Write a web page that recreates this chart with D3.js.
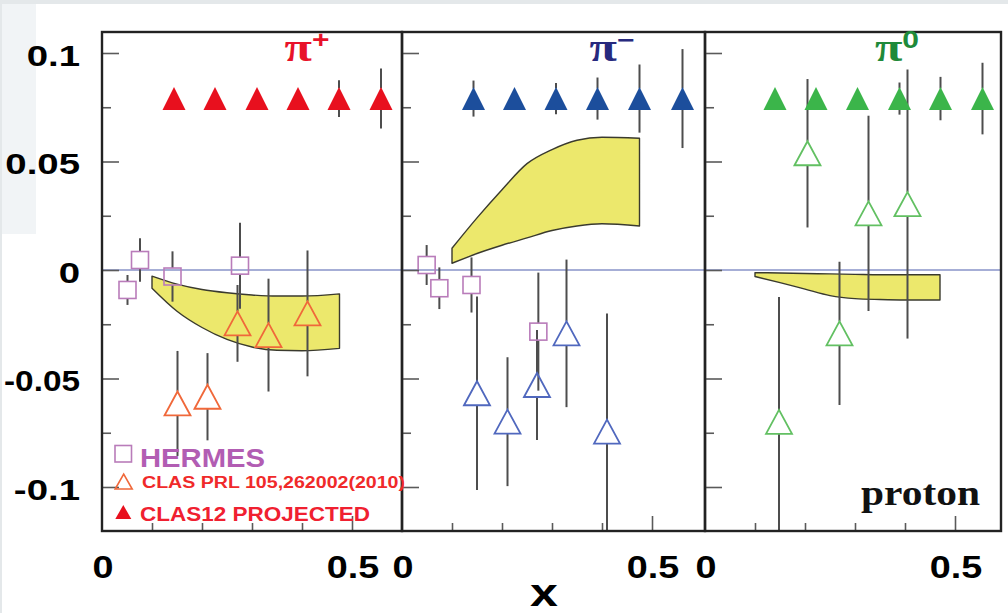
<!DOCTYPE html>
<html>
<head>
<meta charset="utf-8">
<script src="https://cdn.jsdelivr.net/npm/d3@7"></script>
<style>
  html, body { margin: 0; padding: 0; background: #fff; overflow: hidden; }
  svg { display: block; }
</style>
</head>
<body>
<svg id="chart" width="1008" height="613"></svg>
<script>
// ---------------- data ----------------
const panelSups = ["+", "\u2212", "0"];
const yMajorTicks = [-0.1, -0.05, 0, 0.05, 0.1];
const yMinorTicks = [-0.075, -0.025, 0.025, 0.075];
const yTickLabels = ["-0.1", "-0.05", "0", "0.05", "0.1"];
const xMinorTicks = [0.1, 0.2, 0.3, 0.4];
const xMajorTicks = [0.5];
const xLabelValues = [0, 0.5];
const xTickLabels = ["0", "0.5"];

// CLAS12 projected (filled triangles)
const projectedY = 0.079;
const projX_piPlus  = [0.144, 0.226, 0.310, 0.392, 0.474, 0.558];
const projErr_piPlus  = [0.003, 0.003, 0.003, 0.004, 0.0085, 0.0138];
const projX_piMinus = [0.143, 0.225, 0.308, 0.391, 0.475, 0.561];
const projErr_piMinus = [0.0083, 0.004, 0.0072, 0.0097, 0.0157, 0.0228];
const projX_piZero  = [0.140, 0.222, 0.305, 0.389, 0.471, 0.555];
const projErr_piZero  = [0.003, 0.003, 0.003, 0.0074, 0.010, 0.0165];

// CLAS PRL 105,262002(2010) (open triangles)
const clasX_piPlus  = [0.151, 0.211, 0.271, 0.333, 0.411];
const clasY_piPlus  = [-0.0615, -0.0584, -0.0246, -0.0300, -0.0200];
const clasErr_piPlus = [0.0242, 0.0201, 0.0177, 0.0260, 0.0290];
const clasX_piMinus = [0.150, 0.211, 0.270, 0.329, 0.410];
const clasY_piMinus = [-0.0568, -0.0699, -0.0530, -0.0292, -0.0745];
const clasErr_piMinus = [0.0446, 0.0297, 0.0253, 0.0340, 0.0545];
const clasX_piZero  = [0.148, 0.205, 0.269, 0.327, 0.405];
const clasY_piZero  = [-0.0700, 0.0538, -0.0292, 0.0261, 0.0304];
const clasErr_piZero = [0.0576, 0.0342, 0.0330, 0.0450, 0.0620];

// HERMES (open squares)
const hermesX_piPlus  = [0.051, 0.076, 0.141, 0.276];
const hermesY_piPlus  = [-0.0092, 0.0046, -0.0030, 0.0020];
const hermesErr_piPlus = [0.0069, 0.0100, 0.0116, 0.0198];
const hermesX_piMinus = [0.0493, 0.0747, 0.139, 0.2727];
const hermesY_piMinus = [0.0023, -0.0084, -0.0069, -0.0284];
const hermesErr_piMinus = [0.0092, 0.0096, 0.0127, 0.0272];

// model bands (x, lower, upper)
const bandX = [0.10, 0.15, 0.20, 0.25, 0.30, 0.35, 0.40, 0.475];
const bandLo_piPlus  = [-0.0084, -0.0190, -0.0265, -0.0320, -0.0355, -0.0370, -0.0372, -0.0361];
const bandHi_piPlus  = [-0.0028, -0.0065, -0.0090, -0.0105, -0.0115, -0.0120, -0.0120, -0.0110];
const bandLo_piMinus = [0.0031, 0.0076, 0.0114, 0.0148, 0.0182, 0.0203, 0.0213, 0.0203];
const bandHi_piMinus = [0.0100, 0.0240, 0.0370, 0.0490, 0.0555, 0.0598, 0.0612, 0.0607];
const bandX_piZero   = [0.10, 0.15, 0.20, 0.25, 0.30, 0.35, 0.40, 0.47];
const bandLo_piZero  = [-0.0030, -0.0058, -0.0088, -0.0118, -0.0132, -0.0136, -0.0138, -0.0138];
const bandHi_piZero  = [-0.0012, -0.0014, -0.0016, -0.0018, -0.0020, -0.0022, -0.0022, -0.0022];

// ---------------- layout / style ----------------
const panelLeft  = [102, 402, 705];
const panelRight = [402, 705, 1001];
const plotTop = 32, plotBottom = 531;

const panels = [
  { sup: panelSups[0], titleColor: "#e8122a", titleX: 307,
    projX: projX_piPlus, projErr: projErr_piPlus, projColor: "#e8101e",
    clasX: clasX_piPlus, clasY: clasY_piPlus, clasErr: clasErr_piPlus, clasColor: "#f0683a",
    hermesX: hermesX_piPlus, hermesY: hermesY_piPlus, hermesErr: hermesErr_piPlus,
    bandX: bandX, bandLo: bandLo_piPlus, bandHi: bandHi_piPlus },
  { sup: panelSups[1], titleColor: "#27297e", titleX: 612,
    projX: projX_piMinus, projErr: projErr_piMinus, projColor: "#1c4e9c",
    clasX: clasX_piMinus, clasY: clasY_piMinus, clasErr: clasErr_piMinus, clasColor: "#5068be",
    hermesX: hermesX_piMinus, hermesY: hermesY_piMinus, hermesErr: hermesErr_piMinus,
    bandX: bandX, bandLo: bandLo_piMinus, bandHi: bandHi_piMinus },
  { sup: panelSups[2], titleColor: "#1e8a3a", titleX: 897,
    projX: projX_piZero, projErr: projErr_piZero, projColor: "#3bb54a",
    clasX: clasX_piZero, clasY: clasY_piZero, clasErr: clasErr_piZero, clasColor: "#62c062",
    hermesX: [], hermesY: [], hermesErr: [],
    bandX: bandX_piZero, bandLo: bandLo_piZero, bandHi: bandHi_piZero }
];

const svg = d3.select("#chart");

// page background
svg.append("rect").attr("width", 1008).attr("height", 613).attr("fill", "#ffffff");
svg.append("rect").attr("x", 0).attr("y", 0).attr("width", 36).attr("height", 234).attr("fill", "#f1f4f6");
svg.append("rect").attr("x", 0).attr("y", 0).attr("width", 2).attr("height", 613).attr("fill", "#e4e8ea");
svg.append("rect").attr("x", 0).attr("y", 0).attr("width", 1008).attr("height", 4).attr("fill", "#e4e8ea");

const y = d3.scaleLinear().domain([-0.1, 0.1]).range([487, 53]);

const defs = svg.append("defs");

const sansBold = "'Liberation Sans', Arial, Helvetica, sans-serif";
const serifBold = "'Liberation Serif', 'Times New Roman', serif";

function stretchedText(g, x, yy, str, size, sx, anchor, color, family) {
  return g.append("text")
    .attr("transform", `translate(${x},${yy}) scale(${sx},1)`)
    .attr("text-anchor", anchor)
    .attr("font-family", family || sansBold)
    .attr("font-weight", "bold")
    .attr("font-size", size)
    .attr("fill", color || "#000")
    .text(str);
}

function triPath(cx, cy, w, h) {
  return `M${cx - w / 2},${cy + h / 2} L${cx},${cy - h / 2} L${cx + w / 2},${cy + h / 2} Z`;
}

// y tick labels (the long "-0.05" is squeezed to stay inside the page)
const yLabG = svg.append("g");
yMajorTicks.forEach((v, i) => {
  const lab = yTickLabels[i];
  if (lab.length > 4) {
    yLabG.append("text")
      .attr("x", 4).attr("y", y(v) + 12.5)
      .attr("font-family", sansBold).attr("font-weight", "bold").attr("font-size", 30)
      .attr("textLength", 76).attr("lengthAdjust", "spacingAndGlyphs")
      .text(lab);
  } else {
    stretchedText(yLabG, 80, y(v) + 12.5, lab, 30, 1.28, "end");
  }
});

panels.forEach((p, i) => {
  const L = panelLeft[i], R = panelRight[i];
  const x = d3.scaleLinear().domain([0, 0.5]).range([L, L + 250]);

  defs.append("clipPath").attr("id", "clip" + i)
    .append("rect").attr("x", L).attr("y", plotTop).attr("width", R - L).attr("height", plotBottom - plotTop);

  const g = svg.append("g");
  const body = g.append("g").attr("clip-path", `url(#clip${i})`);

  // model band
  const bandData = p.bandX.map((bx, k) => ({ x: bx, lo: p.bandLo[k], hi: p.bandHi[k] }));
  const area = d3.area()
    .x(d => x(d.x)).y0(d => y(d.lo)).y1(d => y(d.hi))
    .curve(d3.curveMonotoneX);
  body.append("path").datum(bandData)
    .attr("d", area)
    .attr("fill", "#ece86c")
    .attr("stroke", "#3a3a2e")
    .attr("stroke-width", 1.4)
    .attr("stroke-linejoin", "round");

  // zero line
  body.append("line")
    .attr("x1", L).attr("x2", R).attr("y1", y(0)).attr("y2", y(0))
    .attr("stroke", "#4f5fae").attr("stroke-width", 1.2);

  // error bars with a gap where the marker sits
  function errBars(xs, ys, es, halfGap) {
    xs.forEach((xv, k) => {
      const cx = x(xv), cy = y(ys[k]);
      const top = y(ys[k] + es[k]), bot = y(ys[k] - es[k]);
      if (cy - top > halfGap) {
        body.append("line").attr("x1", cx).attr("x2", cx).attr("y1", top).attr("y2", cy - halfGap)
          .attr("stroke", "#4d4d4d").attr("stroke-width", 2);
      }
      if (bot - cy > halfGap) {
        body.append("line").attr("x1", cx).attr("x2", cx).attr("y1", cy + halfGap).attr("y2", bot)
          .attr("stroke", "#4d4d4d").attr("stroke-width", 2);
      }
    });
  }

  const projY = p.projX.map(() => projectedY);
  errBars(p.projX, projY, p.projErr, 10);
  errBars(p.hermesX, p.hermesY, p.hermesErr, 8.5);
  errBars(p.clasX, p.clasY, p.clasErr, 12);

  // HERMES open squares
  body.selectAll("rect.hermes").data(p.hermesX.map((hx, k) => [hx, p.hermesY[k]]))
    .join("rect").attr("class", "hermes")
    .attr("x", d => x(d[0]) - 8.5).attr("y", d => y(d[1]) - 8.5)
    .attr("width", 17).attr("height", 17)
    .attr("fill", "none").attr("stroke", "#b97cba").attr("stroke-width", 1.6);

  // CLAS open triangles
  body.selectAll("path.clas").data(p.clasX.map((cx, k) => [cx, p.clasY[k]]))
    .join("path").attr("class", "clas")
    .attr("d", d => triPath(x(d[0]), y(d[1]), 26, 24))
    .attr("fill", "none").attr("stroke", p.clasColor).attr("stroke-width", 1.8)
    .attr("stroke-linejoin", "miter");

  // CLAS12 projected filled triangles
  body.selectAll("path.proj").data(p.projX)
    .join("path").attr("class", "proj")
    .attr("d", d => triPath(x(d), y(projectedY), 23, 23))
    .attr("fill", p.projColor);

  // ticks (inside the frame)
  const tickStyle = sel => {
    sel.select(".domain").remove();
    sel.selectAll("line").attr("stroke", "#5a5a5a").attr("stroke-width", 1.6);
    sel.selectAll("text").remove();
  };
  g.append("g").attr("transform", `translate(${L},0)`)
    .call(d3.axisRight(y).tickValues(yMajorTicks).tickSize(17)).call(tickStyle);
  g.append("g").attr("transform", `translate(${L},0)`)
    .call(d3.axisRight(y).tickValues(yMinorTicks).tickSize(9)).call(tickStyle);
  g.append("g").attr("transform", `translate(0,${plotBottom})`)
    .call(d3.axisTop(x).tickValues(xMinorTicks).tickSize(8)).call(tickStyle);
  g.append("g").attr("transform", `translate(0,${plotBottom})`)
    .call(d3.axisTop(x).tickValues(xMajorTicks).tickSize(15)).call(tickStyle);

  // frame
  g.append("rect").attr("x", L).attr("y", plotTop).attr("width", R - L).attr("height", plotBottom - plotTop)
    .attr("fill", "none").attr("stroke", "#222").attr("stroke-width", 2.4);

  // x tick labels
  xLabelValues.forEach((v, k) => {
    stretchedText(svg, x(v) + 1, 578, xTickLabels[k], 32, 1.18, "middle");
  });

  // panel title: π with superscript charge
  const t = g.append("text")
    .attr("transform", `translate(${p.titleX},61) scale(1.25,1)`)
    .attr("text-anchor", "middle")
    .attr("font-family", serifBold).attr("font-weight", "bold")
    .attr("fill", p.titleColor);
  t.append("tspan").attr("font-size", 40).text("\u03c0");
  t.append("tspan").attr("font-size", 24).attr("font-family", sansBold).attr("dy", -13).text(p.sup);
});

// legend (first panel)
const leg = svg.append("g");
leg.append("rect").attr("x", 115).attr("y", 445.5).attr("width", 16.5).attr("height", 16.5)
  .attr("fill", "none").attr("stroke", "#b97cba").attr("stroke-width", 1.6);
leg.append("text").attr("x", 140).attr("y", 466.5)
  .attr("font-family", sansBold).attr("font-weight", "bold").attr("font-size", 26)
  .attr("fill", "#b25db3").attr("textLength", 125).attr("lengthAdjust", "spacingAndGlyphs")
  .text("HERMES");
leg.append("path").attr("d", triPath(123.7, 481.5, 17, 15))
  .attr("fill", "none").attr("stroke", "#f0683a").attr("stroke-width", 1.6);
leg.append("text").attr("x", 142).attr("y", 487.5)
  .attr("font-family", sansBold).attr("font-weight", "bold").attr("font-size", 16)
  .attr("fill", "#f02a2a").attr("textLength", 263).attr("lengthAdjust", "spacingAndGlyphs")
  .text("CLAS PRL 105,262002(2010)");
leg.append("path").attr("d", triPath(123.3, 512, 16, 14)).attr("fill", "#e8101e");
leg.append("text").attr("x", 140).attr("y", 520.5)
  .attr("font-family", sansBold).attr("font-weight", "bold").attr("font-size", 20)
  .attr("fill", "#f02030").attr("textLength", 230).attr("lengthAdjust", "spacingAndGlyphs")
  .text("CLAS12 PROJECTED");

// "proton" label
svg.append("text").attr("x", 861).attr("y", 505)
  .attr("font-family", serifBold).attr("font-weight", "bold").attr("font-size", 35)
  .attr("fill", "#111").attr("textLength", 119).attr("lengthAdjust", "spacingAndGlyphs")
  .text("proton");

// x axis title
stretchedText(svg, 544, 606, "x", 38, 1.32, "middle");
</script>
</body>
</html>
